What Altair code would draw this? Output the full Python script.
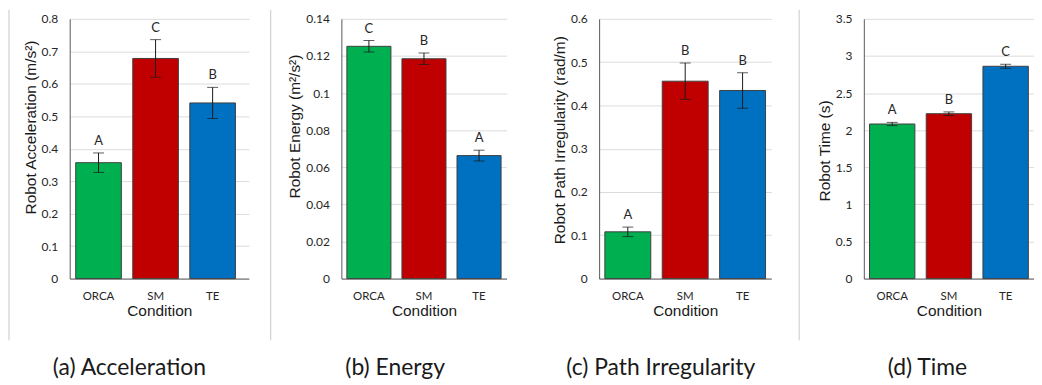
import altair as alt
import pandas as pd

conditions = ["ORCA", "SM", "TE"]
colors = ["#00b050", "#c00000", "#0070c0"]

accel_mean = [0.357, 0.678, 0.541]
accel_err = [0.030, 0.058, 0.048]
accel_letters = ["A", "C", "B"]

energy_mean = [0.1252, 0.1185, 0.0663]
energy_err = [0.0031, 0.0031, 0.0029]
energy_letters = ["C", "B", "A"]

path_mean = [0.108, 0.456, 0.4345]
path_err = [0.011, 0.042, 0.041]
path_letters = ["A", "B", "B"]

time_mean = [2.083, 2.222, 2.861]
time_err = [0.022, 0.024, 0.027]
time_letters = ["A", "B", "C"]

accel_ticks = [0, 0.1, 0.2, 0.3, 0.4, 0.5, 0.6, 0.7, 0.8]
energy_ticks = [0, 0.02, 0.04, 0.06, 0.08, 0.1, 0.12, 0.14]
path_ticks = [0, 0.1, 0.2, 0.3, 0.4, 0.5, 0.6]
time_ticks = [0, 0.5, 1, 1.5, 2, 2.5, 3, 3.5]

titles = ["Robot Acceleration (m/s²)", "Robot Energy (m²/s²)",
          "Robot Path Irregularity (rad/m)", "Robot Time (s)"]
captions = ["(a) Acceleration", "(b) Energy", "(c) Path Irregularity", "(d) Time"]

PLOT_H = 261


def panel(means, errs, letters, ytitle, yticks, caption, width, pad_outer, align,
          sep_x, cap_x, title_y):
    df = pd.DataFrame({
        "cond": conditions,
        "mean": means,
        "lo": [m - e for m, e in zip(means, errs)],
        "hi": [m + e for m, e in zip(means, errs)],
        "letter": letters,
    })
    yscale = alt.Scale(domain=[0, yticks[-1]], nice=False, zero=True)
    yaxis = alt.Axis(title=ytitle, values=yticks, format="~g",
                     titleAlign="left", titleY=title_y)

    def Y(field):
        return alt.Y(f"{field}:Q", scale=yscale, axis=yaxis)

    base = alt.Chart(df).encode(
        x=alt.X("cond:N", sort=conditions,
                scale=alt.Scale(paddingInner=0.2, paddingOuter=pad_outer, align=align),
                axis=alt.Axis(title="Condition", labelAngle=0))
    )
    bars = base.mark_bar(stroke="#404040", strokeWidth=1).encode(
        y=Y("mean"),
        color=alt.Color("cond:N", scale=alt.Scale(domain=conditions, range=colors),
                        legend=None),
    )
    err = base.mark_rule(color="#1a1a1a", strokeWidth=1).encode(y=Y("lo"), y2="hi:Q")
    cap_lo = base.mark_tick(color="#1a1a1a", thickness=1, size=11).encode(y=Y("lo"))
    cap_hi = base.mark_tick(color="#1a1a1a", thickness=1, size=11).encode(y=Y("hi"))
    lbl = base.mark_text(baseline="bottom", dy=-5, font="Lato", fontSize=13,
                         color="#262626").encode(y=Y("hi"), text="letter:N")
    layers = [bars, err, cap_lo, cap_hi, lbl]
    if sep_x is not None:
        sep = alt.Chart(pd.DataFrame({"s": [0]})).mark_rule(
            color="#c8c8c8", strokeWidth=1).encode(
            x=alt.value(sep_x), y=alt.value(-9), y2=alt.value(323))
        layers.append(sep)
    cap = alt.Chart(pd.DataFrame({"caption": [caption]})).mark_text(
        font="Lato", fontSize=23, color="#1a1a1a", baseline="middle", align="center"
    ).encode(x=alt.value(cap_x), y=alt.value(351), text="caption:N")
    layers.append(cap)
    return alt.layer(*layers).properties(width=width, height=PLOT_H)


pa = panel(accel_mean, accel_err, accel_letters, titles[0], accel_ticks, captions[0],
           180, 0.17, 0.31, -61, 60, 196)
pb = panel(energy_mean, energy_err, energy_letters, titles[1], energy_ticks, captions[1],
           166, 0.1, 0.5, -71, 54, 180)
pc = panel(path_mean, path_err, path_letters, titles[2], path_ticks, captions[2],
           173, 0.1, 0.5, None, 62, 226)
pd_ = panel(time_mean, time_err, time_letters, titles[3], time_ticks, captions[3],
            171, 0.1, 0.5, -65, 64, 183)

chart = alt.hconcat(pa, pb, pc, pd_, spacing=93, bounds="flush").properties(
    padding={"left": 0, "top": 0, "right": 0, "bottom": 0}
).configure_view(stroke=None).configure_axisY(
    domain=True, domainColor="#595959", ticks=False, grid=True, gridColor="#dcdcdc",
    labelFont="Lato", labelFontSize=12, labelColor="#262626", labelPadding=12,
    titleFont="Liberation Sans", titleFontSize=15.5, titleFontWeight="normal",
    titleColor="#1a1a1a", titlePadding=3,
).configure_axisX(
    domain=True, domainColor="#595959", ticks=False, grid=False,
    labelFont="Lato", labelFontSize=11.5, labelColor="#262626", labelPadding=12,
    titleFont="Liberation Sans", titleFontSize=15.5, titleFontWeight="normal",
    titleColor="#1a1a1a", titlePadding=2,
)

chart.save("out.html", embed_options={"renderer": "svg", "actions": False})
